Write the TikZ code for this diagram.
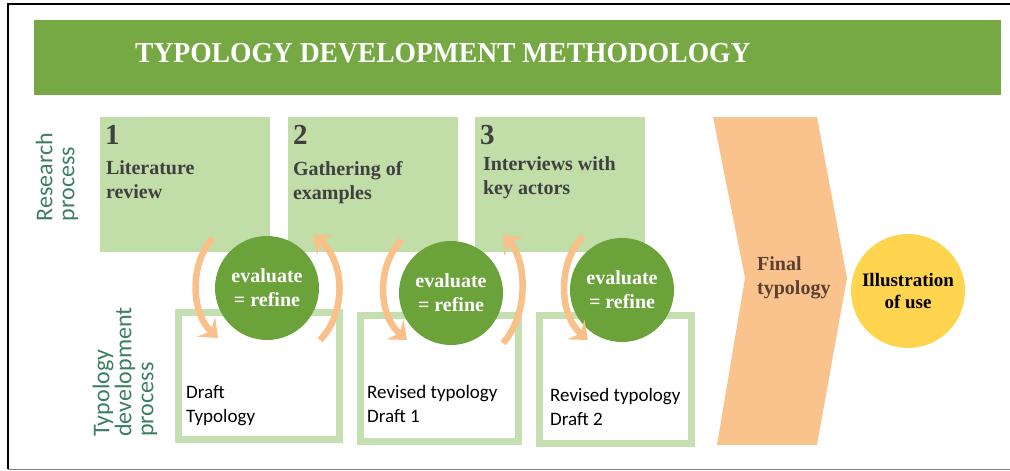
\documentclass[tikz,border=0pt]{standalone}
\usepackage{fontspec}
\setmainfont{Liberation Serif}
\newfontfamily\calibri{Carlito}
\usetikzlibrary{arrows.meta, positioning}

\definecolor{bannergreen}{HTML}{76A843}
\definecolor{stagegreen}{HTML}{C1DDA8}
\definecolor{draftgreen}{HTML}{C5E0B0}
\definecolor{refinegreen}{HTML}{6BA33A}
\definecolor{looporange}{HTML}{F9C08A}
\definecolor{finalorange}{HTML}{FAC38D}
\definecolor{useyellow}{HTML}{FFD44F}
\definecolor{sidetext}{HTML}{3C7F5F}
\definecolor{headtext}{HTML}{404040}
\definecolor{finaltext}{HTML}{5A4030}

\begin{document}
\begin{tikzpicture}[x=1pt, y=-1pt,
  stagebox/.style={rectangle, fill=stagegreen, minimum width=170pt, minimum height=135pt, inner sep=0pt},
  stagenum/.style={anchor=north west, inner sep=0pt, text=headtext, font=\fontsize{29}{29}\selectfont\bfseries},
  stagetext/.style={anchor=north west, inner sep=0pt, align=left, text=headtext, font=\fontsize{20}{24}\selectfont\bfseries},
  draftbox/.style={rectangle, draw=draftgreen, line width=7pt, fill=white, inner sep=0pt},
  drafttext/.style={anchor=north west, inner sep=0pt, align=left, font=\calibri\fontsize{19}{24}\selectfont},
  refine/.style={circle, fill=refinegreen, minimum size=104pt, inner sep=0pt, align=center, text=white, font=\fontsize{20}{24}\selectfont\bfseries},
  loop/.style={draw=looporange, line width=6.5pt, -{Stealth[length=16pt, width=26pt, inset=6pt]}},
  sidelabel/.style={rotate=90, align=left, inner sep=0pt, text=sidetext, font=\calibri\fontsize{24}{22}\selectfont}
]
\useasboundingbox (0,0) rectangle (1010,471);

% frame
\draw[line width=1.5pt] (1010,4) -- (8,4) -- (8,469);
\draw[gray] (8,469) -- (1010,469);

% banner
\node (banner) [rectangle, fill=bannergreen, minimum width=967pt, minimum height=75pt] at (517.5,57.5) {};
\node (title) [anchor=west, inner sep=0pt, text=white, font=\fontsize{29}{29}\selectfont\bfseries] at (135,53) {\scalebox{0.95}[1]{TYPOLOGY DEVELOPMENT METHODOLOGY}};

% side labels
\node (research) [sidelabel] at (57,177) {Research\\process};
\node (develop) [sidelabel] at (125,372) {Typology\\development\\process};

% research stages
\node (lit) [stagebox] at (185,184.5) {};
\node (gather) [stagebox] at (373,184.5) {};
\node (interview) [stagebox] at (560,184.5) {};
\node (litnum) [stagenum] at ([shift={(5,8)}]lit.north west) {1};
\node (gathernum) [stagenum] at ([shift={(5,8)}]gather.north west) {2};
\node (interviewnum) [stagenum] at ([shift={(5,8)}]interview.north west) {3};
\node (littext) [stagetext] at ([shift={(6,44)}]lit.north west) {Literature\\review};
\node (gathertext) [stagetext] at ([shift={(5,44)}]gather.north west) {Gathering of\\examples};
\node (interviewtext) [stagetext] at ([shift={(8,40)}]interview.north west) {Interviews with\\key actors};

% typology drafts
\node (draft) [draftbox, minimum width=161pt, minimum height=127pt] at (259,376) {};
\node (rev1) [draftbox, minimum width=158pt, minimum height=126pt] at (439.5,378.5) {};
\node (rev2) [draftbox, minimum width=152pt, minimum height=128pt] at (615.5,379.5) {};
\node (drafttxt) [drafttext] at (186,385) {Draft\\Typology};
\node (rev1txt) [drafttext] at (367,385) {Revised typology\\Draft 1};
\node (rev2txt) [drafttext] at (550,388) {Revised typology\\Draft 2};

% evaluate circles
\node (eval1) [refine] at (267,288) {evaluate\\= refine};
\node (eval2) [refine] at (451,293) {evaluate\\= refine};
\node (eval3) [refine] at (622,290) {evaluate\\= refine};

% loop arrows
\coordinate (a1s) at (213,238);
\coordinate (a1e) at (218,338);
\coordinate (a2s) at (320,340);
\coordinate (a2e) at (313,235);
\coordinate (a3s) at (402,240);
\coordinate (a3e) at (407,340);
\coordinate (a4s) at (503,343);
\coordinate (a4e) at (503,235);
\coordinate (a5s) at (583,237);
\coordinate (a5e) at (588,340);
\draw [loop] (a1s) .. controls (190,262) and (190,312) .. (a1e);
\draw [loop] (a2s) .. controls (346,314) and (346,262) .. (a2e);
\draw [loop] (a3s) .. controls (377,264) and (377,314) .. (a3e);
\draw [loop] (a4s) .. controls (528,316) and (528,262) .. (a4e);
\draw [loop] (a5s) .. controls (558,261) and (558,314) .. (a5e);

% final typology chevron
\fill[finalorange] (713,117) -- (817,117) -- (847,278) -- (817,445) -- (717,445) -- (745,278) -- cycle;
\node (final) [anchor=north west, inner sep=0pt, align=left, text=finaltext, font=\fontsize{20}{24}\selectfont\bfseries] at (757,256) {Final\\typology};

% illustration
\node (use) [circle, fill=useyellow, minimum size=114pt, inner sep=0pt, align=center, font=\fontsize{19}{22}\selectfont\bfseries] at (908,291) {Illustration\\of use};

\end{tikzpicture}
\end{document}
